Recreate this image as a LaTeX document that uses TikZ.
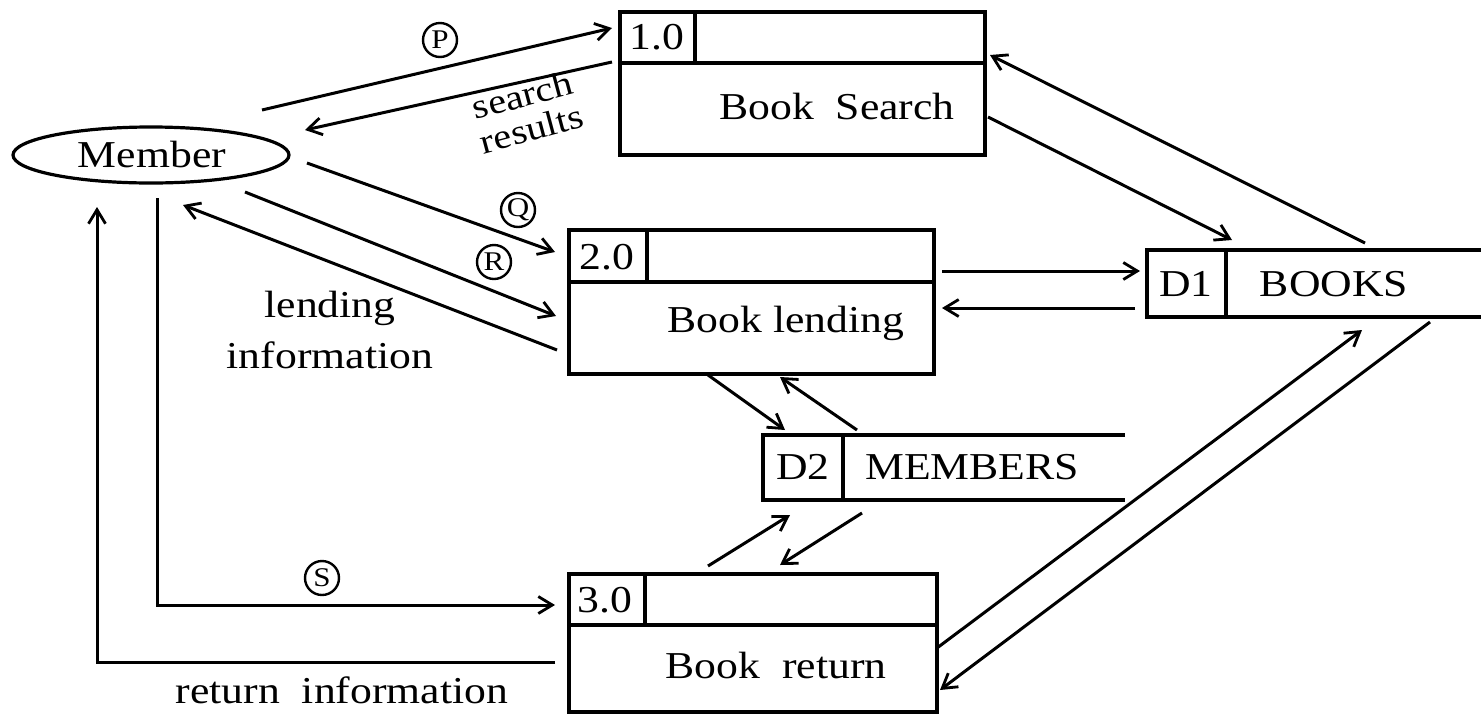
\documentclass[tikz,border=0pt]{standalone}
\usepackage{fontspec}
\setmainfont{Liberation Serif}[FakeStretch=1.15]
\usetikzlibrary{arrows.meta,shapes.geometric}
\begin{document}
\begin{tikzpicture}[x=1pt,y=-1pt,line width=3pt,
  >={Straight Barb[length=14pt,width=17pt,line width=2.8pt]},
  txt/.style={font=\fontsize{38}{44}\selectfont,inner sep=0pt},
  circ/.style={circle,draw,line width=2.4pt,inner sep=0pt,minimum size=34pt,font=\fontsize{27}{27}\selectfont},
  proc/.style={draw,line width=3.6pt,anchor=north west,inner sep=0pt},
  flow/.style={->}]
\useasboundingbox (0,0) rectangle (1481,713);
% external entity
\node[draw,ellipse,line width=3.2pt,minimum width=276pt,minimum height=56pt,inner sep=0pt] (mem) at (151,155) {};
\node[txt] (memtxt) at (152,154) {Member};
% process 1.0
\node[proc,minimum width=365pt,minimum height=143pt] (b1) at (618,10) {};
\draw[line width=3.6pt] (618,63) -- (983,63) (695,10) -- (695,63);
\node[txt] (n1) at (657,37) {1.0};
\node[txt] (t1) at (837,106) {Book\ \ Search};
% process 2.0
\node[proc,minimum width=365pt,minimum height=144pt] (b2) at (567,228) {};
\draw[line width=3.6pt] (567,282) -- (932,282) (647,228) -- (647,282);
\node[txt] (n2) at (607,257) {2.0};
\node[txt] (t2) at (786,323) {Book lending};
% process 3.0
\node[proc,minimum width=368pt,minimum height=138pt] (b3) at (567,572) {};
\draw[line width=3.6pt] (567,625) -- (935,625) (645,572) -- (645,625);
\node[txt] (n3) at (605,600) {3.0};
\node[txt] (t3) at (776,665) {Book\ \ return};
% data store D1
\draw[line width=3.4pt] (1481,250) -- (1147,250) -- (1147,317) -- (1481,317) (1226,250) -- (1226,317);
\node[txt] (d1) at (1186,284) {D1};
\node[txt] (books) at (1334,284) {BOOKS};
% data store D2
\draw[line width=3.4pt] (1125,435) -- (763,435) -- (763,500) -- (1125,500) (843,435) -- (843,500);
\node[txt] (d2) at (803,467) {D2};
\node[txt] (members) at (972,467) {MEMBERS};
% coordinates
\coordinate (pA) at (262,110); \coordinate (pB) at (612,28);
\coordinate (sA) at (612,62);  \coordinate (sB) at (305,130);
\coordinate (qA) at (307,163); \coordinate (qB) at (555,252);
\coordinate (rA) at (245,192); \coordinate (rB) at (556,316);
\coordinate (lA) at (557,350); \coordinate (lB) at (183,205);
\coordinate (s0) at (157,198); \coordinate (s1) at (157,605); \coordinate (s2) at (555,605);
\coordinate (ri0) at (555,662); \coordinate (ri1) at (97,662); \coordinate (ri2) at (97,207);
\coordinate (e1a) at (988,117); \coordinate (e1b) at (1232,240);
\coordinate (e2a) at (1365,243); \coordinate (e2b) at (990,55);
\coordinate (e3a) at (942,271); \coordinate (e3b) at (1140,271);
\coordinate (e4a) at (1135,308); \coordinate (e4b) at (942,308);
\coordinate (e5a) at (708,375); \coordinate (e5b) at (785,430);
\coordinate (e6a) at (857,430); \coordinate (e6b) at (780,377);
\coordinate (e7a) at (708,566); \coordinate (e7b) at (790,515);
\coordinate (e8a) at (862,513); \coordinate (e8b) at (780,565);
\coordinate (e9a) at (937,648); \coordinate (e9b) at (1362,330);
\coordinate (e10a) at (1430,322); \coordinate (e10b) at (940,690);
% flows
\draw[flow] (pA) -- (pB);
\draw[flow] (sA) -- (sB);
\draw[flow] (qA) -- (qB);
\draw[flow] (rA) -- (rB);
\draw[flow] (lA) -- (lB);
\draw[flow] (s0) -- (s1) -- (s2);
\draw[flow] (ri0) -- (ri1) -- (ri2);
\draw[flow] (e1a) -- (e1b);
\draw[flow] (e2a) -- (e2b);
\draw[flow] (e3a) -- (e3b);
\draw[flow] (e4a) -- (e4b);
\draw[flow] (e5a) -- (e5b);
\draw[flow] (e6a) -- (e6b);
\draw[flow] (e7a) -- (e7b);
\draw[flow] (e8a) -- (e8b);
\draw[flow] (e9a) -- (e9b);
\draw[flow] (e10a) -- (e10b);
% labels
\node[circ] (cP) at (440,40) {P};
\node[circ] (cQ) at (518,210) {Q};
\node[circ] (cR) at (494,262) {R};
\node[circ] (cS) at (322,578) {S};
\node[txt,rotate=15,align=center,font=\fontsize{35}{35}\selectfont] (lsearch) at (527,112) {search\\results};
\node[txt] (llend) at (330,308) {lending};
\node[txt] (linfo) at (330,355) {information};
\node[txt] (lret) at (342,690) {return\ \ information};
\end{tikzpicture}
\end{document}
